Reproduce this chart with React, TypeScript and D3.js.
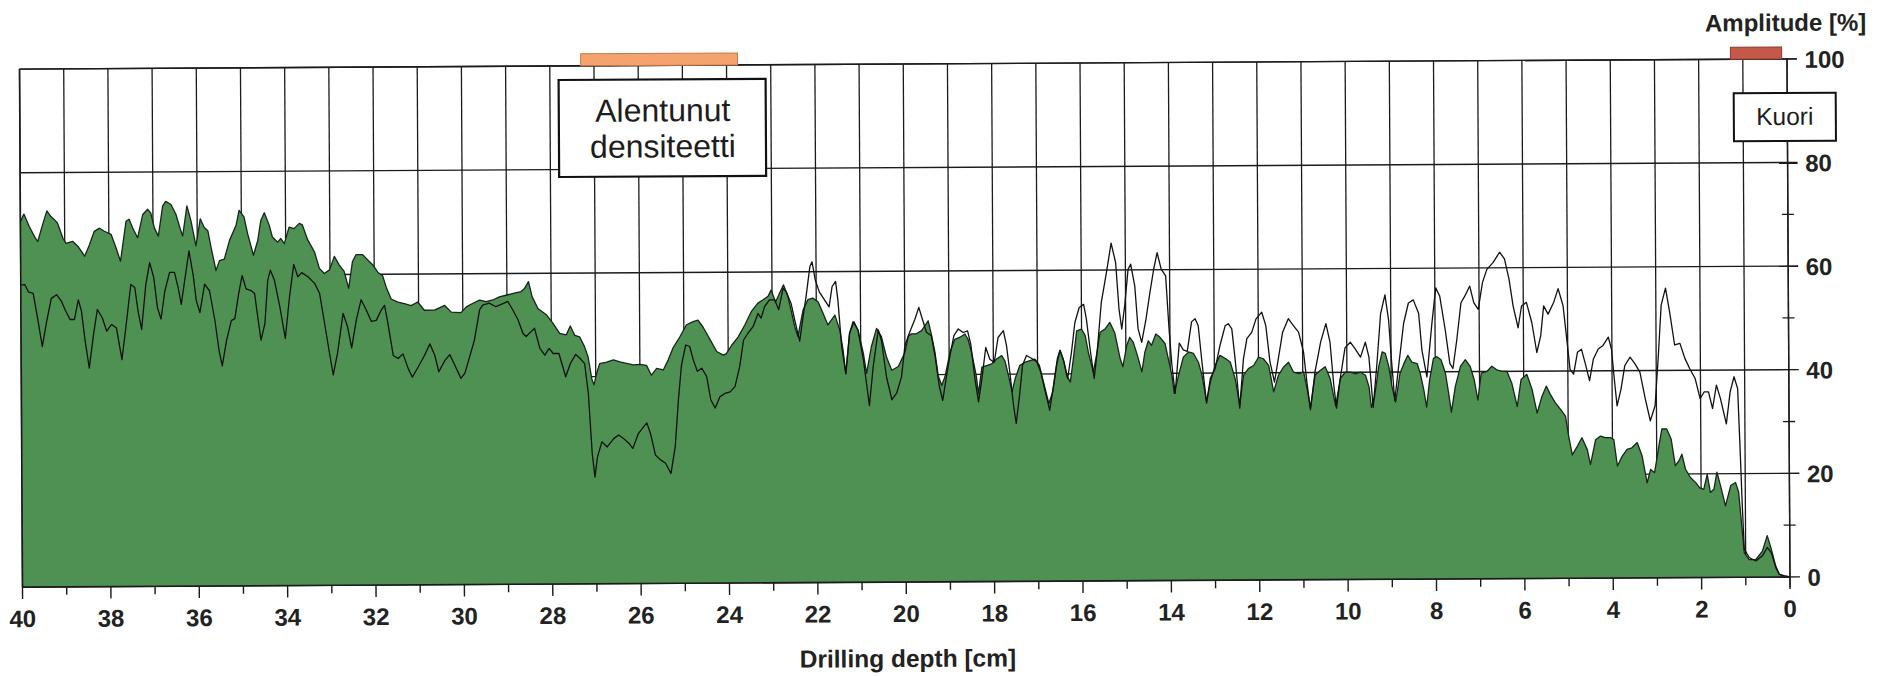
import React from 'react';
import * as d3 from 'd3';

// Filled series (green area): [drilling depth cm, amplitude %]
const areaSeries: [number, number][] = [
  [40.0,70.5],[39.98,70.9],[39.92,72.0],[39.80,69.6],[39.68,67.6],[39.61,66.7],[39.50,69.9],[39.40,72.6],[39.31,71.5],[39.23,70.9],[39.16,70.2],[39.04,67.3],[38.97,66.3],[38.82,66.7],[38.70,65.7],[38.55,63.8],[38.44,66.0],[38.33,68.6],[38.21,69.2],[38.10,68.6],[37.95,68.0],[37.84,65.4],[37.74,62.8],[37.61,70.5],[37.54,70.9],[37.46,69.2],[37.35,67.3],[37.23,71.8],[37.12,72.8],[37.05,72.1],[36.97,69.2],[36.88,67.6],[36.78,73.4],[36.71,74.3],[36.59,73.7],[36.48,71.8],[36.37,68.6],[36.33,67.6],[36.23,73.4],[36.14,70.5],[36.03,65.7],[35.93,70.9],[35.84,69.2],[35.76,68.6],[35.69,65.4],[35.58,60.9],[35.50,62.8],[35.39,63.1],[35.27,66.7],[35.12,69.6],[35.05,72.5],[34.94,71.2],[34.86,68.0],[34.73,63.8],[34.63,66.7],[34.56,70.5],[34.48,72.0],[34.37,69.6],[34.30,67.3],[34.18,66.3],[34.11,67.0],[34.03,66.0],[33.92,69.2],[33.81,68.9],[33.69,69.9],[33.62,69.6],[33.50,66.7],[33.35,64.4],[33.24,61.2],[33.13,60.2],[33.01,60.9],[32.90,63.5],[32.79,61.8],[32.68,60.6],[32.58,57.3],[32.49,62.5],[32.41,63.8],[32.26,63.8],[32.15,62.8],[32.03,61.8],[31.92,60.4],[31.81,59.7],[31.73,57.5],[31.62,55.2],[31.47,54.6],[31.32,54.3],[31.17,53.9],[31.02,54.6],[30.87,53.0],[30.64,53.0],[30.41,53.9],[30.26,52.6],[30.04,52.5],
  [29.92,53.6],[29.77,54.3],[29.62,54.9],[29.47,54.6],[29.32,54.9],[29.17,55.5],[29.02,55.8],[28.83,56.2],[28.68,56.5],[28.60,57.1],[28.51,58.4],[28.43,55.5],[28.30,53.2],[28.11,52.0],[27.96,50.3],[27.81,48.4],[27.66,48.1],[27.57,49.8],[27.47,48.0],[27.36,47.7],[27.25,45.8],[27.17,43.8],[27.09,39.6],[27.04,38.4],[26.98,40.6],[26.91,42.5],[26.75,42.8],[26.60,43.2],[26.45,42.8],[26.30,42.5],[26.15,42.2],[26.0,42.3],[25.85,42.1],[25.74,40.2],[25.62,41.5],[25.47,41.2],[25.36,43.1],[25.25,45.4],[25.09,47.6],[24.94,49.9],[24.79,50.5],[24.68,50.8],[24.57,49.5],[24.42,47.2],[24.26,44.7],[24.11,44.0],[24.04,44.3],[23.92,45.9],[23.77,47.5],[23.62,49.8],[23.47,52.4],[23.32,54.0],[23.21,54.6],[23.09,55.3],[23.02,56.5],[22.92,54.2],[22.83,55.9],[22.74,57.5],[22.64,55.2],[22.57,52.6],[22.49,49.4],[22.42,47.5],[22.30,52.6],[22.19,54.6],[22.08,54.9],[21.96,54.2],[21.85,52.0],[21.74,49.7],[21.58,51.6],[21.47,48.7],[21.40,44.9],[21.34,40.3],[21.25,48.1],[21.17,50.3],[21.06,48.7],[20.94,44.2],[20.87,40.3],[20.76,45.4],[20.64,49.0],[20.53,47.4],[20.42,43.5],[20.30,40.9],[20.15,41.6],[20.08,42.9],
  [20.0,44.3],[19.92,47.5],[19.85,47.9],[19.74,47.9],[19.62,48.5],[19.55,49.4],[19.47,50.4],[19.40,47.8],[19.32,44.3],[19.25,39.8],[19.17,37.9],[19.09,39.8],[18.98,44.3],[18.87,46.8],[18.75,47.2],[18.64,47.8],[18.57,46.8],[18.49,44.2],[18.39,39.8],[18.34,36.3],[18.26,41.4],[18.15,41.7],[18.04,42.0],[17.92,43.0],[17.81,43.6],[17.74,42.6],[17.66,39.8],[17.58,36.6],[17.51,39.1],[17.40,41.7],[17.28,42.3],[17.17,42.6],[17.06,42.9],[16.96,41.7],[16.87,38.5],[16.75,34.3],[16.66,36.5],[16.57,41.6],[16.49,44.5],[16.42,42.9],[16.34,39.7],[16.26,38.4],[16.19,42.9],[16.11,48.3],[16.0,48.6],[15.92,47.4],[15.85,44.2],[15.74,40.3],[15.66,43.8],[15.58,48.0],[15.47,48.6],[15.36,49.9],[15.25,47.9],[15.13,42.9],[15.07,41.3],[14.98,45.4],[14.91,47.0],[14.83,46.0],[14.74,43.5],[14.64,40.3],[14.57,44.1],[14.49,46.3],[14.42,45.4],[14.32,47.6],[14.23,47.0],[14.11,45.7],[14.04,42.8],[13.96,39.6],[13.91,36.1],[13.81,39.6],[13.70,43.1],[13.58,44.1],[13.47,43.8],[13.36,42.1],[13.28,39.6],[13.18,34.5],[13.09,38.3],[12.98,41.5],[12.87,43.4],[12.75,42.8],[12.64,42.1],[12.53,38.9],[12.43,33.8],[12.34,39.5],[12.23,40.8],[12.11,41.4],[12.0,43.0],[11.89,42.7],[11.77,41.4],[11.66,36.3],[11.55,39.5],[11.43,41.1],[11.32,42.0],[11.21,40.1],[11.09,39.8],[10.98,40.1],[10.89,36.3],[10.83,33.1],[10.72,39.5],[10.60,40.4],[10.49,41.1],[10.38,38.8],[10.26,33.5],[10.15,38.8],[10.04,40.0],
  [9.92,40.0],[9.81,39.7],[9.69,40.0],[9.58,39.4],[9.50,37.1],[9.45,33.2],[9.38,35.1],[9.28,41.0],[9.20,43.9],[9.13,43.6],[9.05,41.0],[8.98,37.1],[8.90,34.2],[8.80,39.7],[8.71,41.6],[8.62,43.2],[8.53,41.9],[8.41,41.6],[8.34,39.7],[8.26,36.4],[8.20,33.2],[8.13,38.4],[8.04,42.6],[7.96,42.9],[7.87,42.3],[7.77,39.7],[7.70,35.8],[7.64,32.2],[7.55,37.1],[7.43,41.0],[7.32,42.3],[7.21,41.0],[7.12,38.4],[7.04,34.5],[6.96,39.7],[6.83,40.0],[6.72,41.0],[6.61,40.3],[6.49,40.0],[6.38,40.0],[6.27,37.7],[6.15,33.2],[6.06,38.4],[5.93,39.4],[5.81,36.4],[5.70,31.9],[5.59,35.1],[5.49,37.1],[5.40,35.5],[5.29,33.9],[5.17,32.6],[5.06,31.3],[4.99,27.4],[4.91,23.8],[4.80,25.4],[4.69,27.1],[4.57,24.8],[4.50,21.9],[4.38,26.7],[4.27,27.4],[4.16,27.1],[4.05,27.1],[3.97,26.7],[3.89,21.6],[3.78,23.5],[3.67,24.8],[3.56,25.1],[3.44,26.1],[3.33,23.5],[3.22,18.3],[3.14,20.9],[3.05,20.3],[2.95,25.4],[2.88,28.7],[2.77,28.7],[2.67,26.7],[2.58,21.6],[2.50,22.5],[2.43,23.8],[2.35,20.9],[2.24,19.3],[2.12,18.3],[2.03,17.3],[1.94,17.0],[1.86,19.9],[1.79,16.4],[1.71,17.0],[1.64,20.3],[1.56,17.7],[1.45,13.8],[1.33,17.7],[1.22,18.3],[1.15,16.4],[1.09,10.5],[1.03,4.7],[0.92,3.4],[0.77,3.4],[0.62,5.0],[0.51,8.0],[0.42,5.4],[0.32,2.1],[0.24,0.5],[0.13,0.2],[0.0,0.0]
];

// Line series: [drilling depth cm, amplitude %]
const lineSeries: [number, number][] = [
  [40.0,58.3],[39.91,58.4],[39.83,57.0],[39.72,56.7],[39.61,51.2],[39.52,46.4],[39.42,51.2],[39.31,55.7],[39.19,56.4],[39.08,55.1],[39.0,53.5],[38.89,51.6],[38.79,51.6],[38.70,55.4],[38.63,53.2],[38.55,47.4],[38.46,42.2],[38.36,48.7],[38.27,53.5],[38.16,51.9],[38.06,49.3],[37.95,50.6],[37.84,49.9],[37.72,43.8],[37.61,51.2],[37.51,58.3],[37.42,57.7],[37.35,53.2],[37.27,49.6],[37.17,58.3],[37.08,62.5],[36.99,59.6],[36.91,53.8],[36.83,51.6],[36.74,57.0],[36.63,60.6],[36.52,60.6],[36.44,57.7],[36.37,54.4],[36.29,59.0],[36.19,64.7],[36.10,60.2],[36.03,55.1],[35.95,52.8],[35.84,58.3],[35.73,57.0],[35.61,51.2],[35.52,45.4],[35.45,42.5],[35.35,47.4],[35.24,51.2],[35.16,51.6],[35.07,56.4],[34.99,59.9],[34.90,57.3],[34.79,57.0],[34.71,56.4],[34.63,51.2],[34.57,47.4],[34.48,50.6],[34.41,59.0],[34.35,60.9],[34.26,59.0],[34.14,53.8],[34.02,47.7],[33.92,55.7],[33.82,62.0],[33.73,59.6],[33.64,60.4],[33.50,59.6],[33.35,58.3],[33.24,56.4],[33.13,50.6],[33.01,44.2],[32.94,40.6],[32.84,44.8],[32.71,52.5],[32.61,49.9],[32.52,45.8],[32.41,51.2],[32.30,55.1],[32.19,53.2],[32.07,50.9],[31.96,51.1],[31.85,53.0],[31.77,54.0],[31.70,50.7],[31.58,44.3],[31.47,43.7],[31.36,44.6],[31.24,41.7],[31.15,40.1],[31.02,42.0],[30.87,44.3],[30.75,46.5],[30.64,44.3],[30.55,41.1],[30.41,43.3],[30.30,44.4],[30.19,42.4],[30.05,39.8],
  [29.96,40.8],[29.85,44.0],[29.74,47.2],[29.62,53.0],[29.55,53.9],[29.40,54.3],[29.25,53.6],[29.09,54.2],[28.98,54.6],[28.87,53.0],[28.75,51.0],[28.64,48.4],[28.57,47.8],[28.45,48.8],[28.38,49.4],[28.26,45.5],[28.15,44.2],[28.05,45.5],[27.96,44.5],[27.83,44.5],[27.68,40.0],[27.57,42.6],[27.45,44.3],[27.35,43.5],[27.25,42.5],[27.17,36.8],[27.09,25.2],[27.03,20.6],[26.97,24.5],[26.87,27.4],[26.75,26.4],[26.60,28.0],[26.49,28.7],[26.38,28.0],[26.26,27.1],[26.17,26.1],[26.04,29.0],[25.92,30.3],[25.85,31.0],[25.77,29.0],[25.66,24.8],[25.55,23.9],[25.43,23.2],[25.31,21.2],[25.21,26.4],[25.13,35.6],[25.06,42.0],[24.96,46.0],[24.87,45.7],[24.79,43.1],[24.70,40.9],[24.60,41.5],[24.49,39.9],[24.40,35.4],[24.30,33.8],[24.19,36.0],[24.08,36.6],[23.96,36.9],[23.85,37.9],[23.74,41.8],[23.65,46.9],[23.55,48.2],[23.43,49.5],[23.32,52.0],[23.25,51.1],[23.17,53.3],[23.06,54.6],[22.94,54.6],[22.85,52.7],[22.75,56.8],[22.68,56.2],[22.57,53.9],[22.49,50.7],[22.38,46.6],[22.30,51.3],[22.23,55.2],[22.14,61.0],[22.09,61.9],[22.02,58.4],[21.93,56.1],[21.81,54.5],[21.71,53.2],[21.64,57.1],[21.56,58.1],[21.51,54.5],[21.43,45.5],[21.34,40.3],[21.25,48.1],[21.15,50.3],[21.06,48.7],[20.94,42.9],[20.81,34.1],[20.72,41.6],[20.60,48.7],[20.53,46.7],[20.42,39.6],[20.30,35.2],[20.19,36.5],[20.08,39.6],
  [20.0,45.6],[19.89,48.2],[19.77,50.7],[19.68,53.0],[19.60,50.7],[19.51,48.2],[19.40,47.5],[19.32,43.7],[19.23,37.9],[19.15,35.0],[19.06,39.8],[18.98,43.7],[18.89,47.5],[18.79,48.8],[18.68,48.1],[18.58,48.4],[18.51,45.9],[18.42,39.2],[18.34,34.7],[18.26,39.2],[18.17,45.2],[18.08,42.9],[17.98,42.3],[17.89,47.1],[17.77,48.4],[17.70,45.5],[17.62,39.8],[17.55,34.0],[17.49,30.5],[17.41,36.0],[17.34,41.7],[17.25,43.6],[17.13,43.0],[17.02,42.4],[16.93,40.4],[16.83,36.6],[16.73,33.0],[16.64,37.9],[16.55,43.0],[16.49,44.6],[16.40,42.3],[16.32,39.1],[16.23,44.2],[16.15,49.9],[16.05,52.8],[15.95,53.4],[15.89,50.6],[15.80,44.2],[15.72,39.1],[15.65,44.2],[15.55,53.7],[15.43,59.5],[15.32,65.2],[15.22,61.4],[15.15,52.5],[15.09,48.6],[15.02,53.1],[14.94,60.1],[14.88,61.1],[14.79,56.9],[14.72,48.6],[14.64,46.0],[14.54,50.5],[14.45,55.5],[14.36,60.1],[14.28,63.3],[14.19,60.1],[14.09,58.8],[14.02,48.6],[13.96,41.6],[13.89,36.1],[13.79,45.8],[13.70,44.5],[13.61,44.2],[13.51,49.9],[13.43,50.5],[13.36,49.2],[13.28,42.2],[13.18,34.2],[13.09,39.0],[12.98,40.9],[12.87,45.3],[12.75,49.1],[12.68,49.5],[12.60,48.5],[12.53,42.8],[12.43,33.2],[12.34,42.7],[12.26,46.6],[12.15,47.8],[12.05,50.4],[11.92,51.7],[11.83,49.1],[11.74,42.1],[11.64,38.2],[11.55,42.7],[11.45,47.8],[11.32,50.4],[11.21,49.1],[11.09,47.8],[10.98,44.0],[10.90,37.6],[10.83,32.8],[10.72,40.2],[10.59,45.9],[10.47,49.4],[10.38,45.9],[10.30,37.6],[10.24,33.1],[10.15,38.9],[10.04,44.7],
  [9.92,45.8],[9.81,44.5],[9.69,42.9],[9.58,45.8],[9.50,42.9],[9.41,33.2],[9.32,41.6],[9.23,51.3],[9.13,54.9],[9.05,50.0],[8.99,42.3],[8.92,34.5],[8.83,41.0],[8.71,49.4],[8.60,53.3],[8.49,53.9],[8.37,51.3],[8.30,44.2],[8.19,39.0],[8.07,49.4],[7.98,56.2],[7.89,54.6],[7.77,48.1],[7.67,41.6],[7.60,40.6],[7.51,46.1],[7.41,53.3],[7.32,54.6],[7.21,56.5],[7.12,53.3],[7.02,52.0],[6.92,57.2],[6.82,59.7],[6.68,61.0],[6.53,63.0],[6.42,61.7],[6.32,57.8],[6.23,52.6],[6.12,48.4],[6.04,52.6],[5.93,53.3],[5.81,49.4],[5.70,43.6],[5.61,46.8],[5.54,52.6],[5.44,51.0],[5.31,53.3],[5.21,55.9],[5.10,52.6],[5.02,46.1],[4.95,40.3],[4.87,39.4],[4.78,43.6],[4.69,44.2],[4.61,41.6],[4.51,38.1],[4.42,42.3],[4.31,44.2],[4.20,44.9],[4.08,46.5],[4.01,44.2],[3.95,38.4],[3.89,33.2],[3.80,36.4],[3.71,41.0],[3.59,42.6],[3.48,41.3],[3.37,39.7],[3.25,34.5],[3.14,30.3],[3.03,33.2],[2.95,42.9],[2.88,52.6],[2.78,55.9],[2.69,51.3],[2.58,44.9],[2.46,45.2],[2.35,42.3],[2.24,40.3],[2.12,38.4],[2.01,34.5],[1.92,35.8],[1.82,35.8],[1.73,32.6],[1.64,37.1],[1.55,34.5],[1.42,29.6],[1.33,35.8],[1.24,38.7],[1.16,36.4],[1.12,26.7],[1.07,13.8],[1.03,5.4],[0.92,3.8],[0.77,3.1],[0.62,4.1],[0.51,5.7],[0.42,4.7],[0.32,1.8],[0.24,0.5],[0.13,0.2],[0.0,0.0]
];

const xTickLabels = [40, 38, 36, 34, 32, 30, 28, 26, 24, 22, 20, 18, 16, 14, 12, 10, 8, 6, 4, 2, 0];
const yTickLabels = [0, 20, 40, 60, 80, 100];
const yMinorTicks = [10, 30, 50, 70, 90];
const depthGrid = d3.range(0, 41);

const annotationLabels = [['Alentunut', 'densiteetti'], ['Kuori']];
const annotationFrom = [27.3, 1.28];
const annotationTo = [23.75, 0.12];
const annotationColors = ['#F4A36E', '#C4594A'];

const xAxisTitle = 'Drilling depth [cm]';
const yAxisTitle = 'Amplitude [%]';

export default function App() {
  const W = 1883;
  const H = 676;
  const x = d3.scaleLinear().domain([40, 0]).range([21, 1788.5]);
  const y = d3.scaleLinear().domain([0, 100]).range([582, 64]);
  const area = d3
    .area<[number, number]>()
    .x((d) => x(d[0]))
    .y0(y(0))
    .y1((d) => y(d[1]));
  const line = d3
    .line<[number, number]>()
    .x((d) => x(d[0]))
    .y((d) => y(d[1]));

  const ink = '#1b1b1b';
  const font = "'Liberation Sans', Arial, Helvetica, sans-serif";

  return (
    <svg
      width={W}
      height={H}
      viewBox={`0 0 ${W} ${H}`}
      style={{ position: 'absolute', left: 0, top: 0, background: '#ffffff' }}
      fontFamily={font}
    >
      <rect x={0} y={0} width={W} height={H} fill="#ffffff" />
      <g transform="rotate(-0.33 905 323)">
        {/* vertical grid */}
        {depthGrid.map((d) => (
          <line key={'vg' + d} x1={x(d)} x2={x(d)} y1={y(100)} y2={y(0)} stroke={ink} strokeWidth={1.3} />
        ))}
        {/* horizontal grid + major y ticks */}
        {yTickLabels.map((v) => (
          <line key={'hg' + v} x1={x(40)} x2={x(0) + 10} y1={y(v)} y2={y(v)} stroke={ink} strokeWidth={1.4} />
        ))}

        {/* filled series */}
        <path d={area(areaSeries) || ''} fill="#4E9152" />
        <path d={line(areaSeries) || ''} fill="none" stroke="#17251a" strokeWidth={1.3} strokeLinejoin="round" />
        {/* line series */}
        <path d={line(lineSeries) || ''} fill="none" stroke="#111" strokeWidth={1.3} strokeLinejoin="round" />

        {/* borders / axes */}
        <line x1={x(40)} x2={x(40)} y1={y(100)} y2={y(0)} stroke={ink} strokeWidth={1.6} />
        <line x1={x(40)} x2={x(0)} y1={y(0)} y2={y(0)} stroke={ink} strokeWidth={1.6} />
        <line x1={x(0)} x2={x(0)} y1={y(100)} y2={y(0) + 10} stroke={ink} strokeWidth={1.4} />
        <line x1={x(40)} x2={x(0) + 10} y1={y(100)} y2={y(100)} stroke={ink} strokeWidth={1.4} />

        {/* x ticks */}
        {depthGrid.map((d) => (
          <line
            key={'xt' + d}
            x1={x(d)}
            x2={x(d)}
            y1={y(0)}
            y2={y(0) + (d % 2 === 0 ? 12 : 8)}
            stroke={ink}
            strokeWidth={1.4}
          />
        ))}
        {xTickLabels.map((d) => (
          <text key={'xl' + d} x={x(d)} y={622} textAnchor="middle" fontSize={24} fontWeight="bold" fill="#222">
            {d}
          </text>
        ))}

        {/* y minor ticks */}
        {yMinorTicks.map((v) => (
          <line key={'ym' + v} x1={x(0) - 6} x2={x(0) + 6} y1={y(v)} y2={y(v)} stroke={ink} strokeWidth={1.3} />
        ))}
        {yTickLabels.map((v) => (
          <text key={'yl' + v} x={1806} y={y(v) + 9} textAnchor="start" fontSize={24} fontWeight="bold" fill="#222">
            {v}
          </text>
        ))}

        {/* titles */}
        <text x={1868} y={36} textAnchor="end" fontSize={24} fontWeight="bold" fill="#222">
          {yAxisTitle}
        </text>
        <text x={906} y={667} textAnchor="middle" fontSize={24.5} fontWeight="bold" fill="#222">
          {xAxisTitle}
        </text>

        {/* annotation bars */}
        {annotationFrom.map((from, i) => (
          <rect
            key={'ab' + i}
            x={x(from)}
            y={y(100) - 12}
            width={x(annotationTo[i]) - x(from)}
            height={12}
            fill={annotationColors[i]}
            stroke={i === 0 ? '#c9784a' : '#8e3a2e'}
            strokeWidth={1}
          />
        ))}

        {/* annotation boxes */}
        <rect x={560} y={78} width={207} height={97} fill="#fff" stroke="#111" strokeWidth={2.2} />
        <text x={664} y={120} textAnchor="middle" fontSize={32} fill="#1d1d1d">
          {annotationLabels[0][0]}
        </text>
        <text x={664} y={156} textAnchor="middle" fontSize={32} fill="#1d1d1d">
          {annotationLabels[0][1]}
        </text>

        <rect x={1735} y={98} width={102} height={48} fill="#fff" stroke="#111" strokeWidth={2} />
        <text x={1786} y={130} textAnchor="middle" fontSize={24.5} fill="#1d1d1d">
          {annotationLabels[1][0]}
        </text>
      </g>
    </svg>
  );
}
